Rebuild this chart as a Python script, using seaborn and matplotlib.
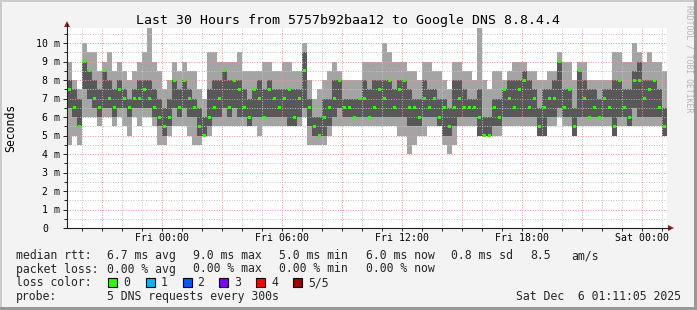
import numpy as np
import matplotlib
matplotlib.use("Agg")
import matplotlib.pyplot as plt
import matplotlib.transforms as mtransforms
from matplotlib.patches import Rectangle, Polygon
from matplotlib.lines import Line2D
import seaborn as sns

# ---------------- data (15-minute steps, hours relative to Fri 00:00) ----------------
t_start = -4.765
t_end = 25.235
step_h = 0.25

median = [7.5, 6.5, 5.5, 9.0, 8.5, 7.0, 6.5, 8.5, 7.0, 6.5,
          7.5, 7.0, 6.5, 7.0, 7.0, 7.5, 7.0, 6.5, 6.0, 5.5,
          6.0, 8.0, 6.5, 8.0, 7.0, 6.5, 5.5, 5.0, 6.0, 6.5,
          7.0, 8.5, 6.5, 8.0, 7.5, 6.5, 6.0, 7.5, 7.0, 6.0,
          7.5, 7.0, 6.5, 7.0, 7.5, 6.0, 7.0, 8.5, 6.5, 5.5,
          5.0, 6.0, 6.5, 7.0, 8.0, 6.5, 6.5, 6.0, 7.0, 7.0,
          6.0, 6.5, 7.5, 7.0, 8.0, 6.5, 7.5, 8.0, 6.5, 6.5,
          6.0, 7.0, 6.5, 7.0, 6.0, 6.5, 5.5, 6.5, 7.0, 6.5,
          6.5, 6.5, 6.0, 5.0, 5.0, 6.5, 6.0, 7.5, 7.0, 6.5,
          7.5, 8.0, 6.5, 7.0, 5.5, 6.5, 7.0, 7.0, 9.0, 6.5,
          7.5, 5.5, 8.5, 7.0, 6.0, 6.5, 6.0, 7.0, 6.5, 5.5,
          8.0, 6.5, 6.0, 8.0, 8.0, 7.0, 7.5, 8.0, 6.5, 5.5]
in_lo = [6.5, 6.0, 5.5, 7.5, 7.0, 6.5, 6.0, 6.5, 6.5, 6.0,
         6.5, 6.5, 6.0, 6.5, 6.5, 6.5, 6.5, 6.0, 5.5, 5.0,
         5.5, 6.5, 6.0, 6.5, 6.0, 6.0, 5.0, 5.0, 5.5, 6.0,
         6.0, 6.5, 6.0, 6.5, 6.0, 6.0, 5.5, 6.0, 6.0, 6.0,
         6.0, 6.0, 6.0, 6.0, 5.5, 5.5, 6.0, 6.5, 5.5, 5.0,
         5.0, 5.0, 5.5, 6.0, 6.5, 6.0, 6.0, 6.0, 6.0, 6.0,
         6.0, 6.0, 6.0, 6.0, 6.0, 6.0, 6.0, 6.0, 5.5, 5.5,
         5.5, 6.0, 6.0, 6.0, 5.5, 5.0, 5.0, 5.5, 6.0, 6.0,
         6.0, 6.0, 5.0, 5.0, 5.0, 5.5, 5.5, 6.0, 6.0, 6.0,
         6.0, 6.0, 6.0, 6.0, 5.0, 5.0, 6.0, 6.0, 6.5, 6.0,
         6.0, 5.0, 6.0, 6.0, 6.0, 6.0, 6.0, 6.0, 6.0, 5.0,
         6.0, 6.0, 5.5, 6.5, 6.0, 6.0, 6.0, 6.0, 6.0, 5.0]
in_hi = [8.0, 7.5, 7.0, 9.0, 8.5, 8.0, 7.5, 8.5, 8.0, 7.5,
         8.0, 7.5, 7.0, 7.5, 8.0, 8.0, 8.0, 7.5, 7.0, 6.5,
         7.0, 8.0, 7.5, 8.0, 7.5, 7.0, 6.5, 6.0, 7.5, 8.0,
         8.0, 8.5, 8.0, 8.0, 8.0, 7.5, 7.0, 7.5, 8.0, 7.5,
         8.0, 7.5, 7.5, 7.5, 7.5, 7.5, 7.5, 9.5, 7.0, 6.0,
         6.0, 7.0, 7.0, 8.0, 8.0, 7.0, 7.0, 7.0, 7.0, 8.0,
         7.5, 8.0, 8.0, 8.0, 8.0, 7.5, 8.0, 8.0, 7.5, 7.0,
         7.0, 8.0, 7.5, 7.5, 7.0, 7.0, 6.5, 8.0, 8.0, 7.5,
         7.0, 7.0, 7.5, 6.0, 6.0, 7.0, 7.0, 7.5, 8.0, 8.0,
         8.0, 8.5, 8.0, 7.5, 6.5, 7.5, 7.5, 8.0, 9.0, 7.5,
         7.5, 6.5, 8.5, 8.0, 7.5, 7.5, 7.0, 7.5, 7.5, 8.0,
         8.0, 7.5, 7.5, 8.5, 9.0, 8.0, 8.0, 8.0, 7.5, 6.5]
out_lo = [4.5, 5.0, 4.5, 6.0, 6.0, 6.0, 5.5, 6.0, 6.0, 5.5,
          6.0, 5.5, 5.0, 6.0, 5.5, 6.0, 6.0, 5.5, 4.5, 4.5,
          5.0, 5.5, 5.5, 5.5, 5.0, 4.5, 4.5, 5.0, 5.0, 5.5,
          5.5, 5.5, 5.5, 5.5, 5.5, 5.5, 5.5, 5.5, 5.0, 5.5,
          5.5, 5.5, 5.5, 5.5, 5.5, 5.5, 5.5, 6.0, 4.5, 4.5,
          4.5, 4.5, 5.0, 5.5, 5.5, 5.5, 5.5, 5.5, 5.5, 5.5,
          5.5, 5.5, 5.5, 5.5, 5.5, 5.5, 5.0, 5.0, 4.0, 4.5,
          5.0, 5.0, 5.5, 5.5, 5.5, 4.5, 4.0, 4.5, 5.5, 5.5,
          5.5, 5.5, 5.0, 5.0, 5.0, 5.0, 5.0, 5.5, 5.5, 5.5,
          5.5, 5.5, 5.5, 5.5, 5.0, 5.0, 5.5, 5.5, 6.0, 5.5,
          5.5, 5.0, 5.5, 5.5, 5.5, 5.5, 5.5, 5.5, 5.5, 5.0,
          5.5, 5.5, 5.5, 5.5, 5.5, 5.5, 5.5, 5.5, 5.5, 5.5]
out_hi = [9.0, 8.0, 7.5, 10.0, 9.5, 9.5, 8.5, 9.0, 9.5, 8.5,
          9.0, 8.5, 8.0, 8.5, 9.0, 9.5, 10.8, 9.0, 8.5, 7.5,
          8.0, 9.0, 8.5, 9.0, 8.5, 8.5, 7.5, 7.0, 9.5, 9.5,
          9.0, 9.0, 9.0, 9.0, 9.5, 8.5, 8.5, 8.5, 8.5, 9.0,
          9.0, 8.5, 8.5, 9.0, 9.0, 8.5, 8.5, 10.0, 8.0, 7.0,
          7.5, 8.0, 8.5, 9.0, 8.5, 8.0, 8.0, 8.0, 8.0, 9.0,
          9.0, 9.0, 9.0, 10.0, 9.5, 9.0, 9.0, 9.0, 8.5, 8.5,
          8.0, 9.0, 9.0, 8.5, 8.5, 8.0, 7.5, 9.0, 9.0, 8.5,
          8.5, 8.0, 10.8, 8.0, 7.5, 8.5, 8.5, 8.0, 8.5, 9.0,
          9.0, 9.0, 8.5, 8.5, 8.0, 8.0, 8.5, 8.5, 9.5, 9.0,
          9.0, 8.0, 9.0, 9.0, 8.0, 8.0, 8.0, 8.0, 8.0, 9.5,
          9.5, 9.0, 9.0, 10.0, 9.5, 9.0, 9.5, 9.0, 9.0, 8.5]

x_tick_pos = [0, 6, 12, 18, 24]
x_tick_labels = ["Fri 00:00", "Fri 06:00", "Fri 12:00", "Fri 18:00", "Sat 00:00"]
y_tick_pos = list(range(0, 11))
y_tick_labels = ["0"] + [f"{v} m" for v in range(1, 11)]

title = "Last 30 Hours from 5757b92baa12 to Google DNS 8.8.4.4"
ylabel = "Seconds"
side_text = "RRDTOOL / TOBI OETIKER"
row1 = ["median rtt:", "6.7 ms avg", "9.0 ms max", "5.0 ms min", "6.0 ms now", "0.8 ms sd", "8.5", "am/s"]
row2 = ["packet loss:", "0.00 % avg", "0.00 % max", "0.00 % min", "0.00 % now"]
loss_labels = ["0", "1", "2", "3", "4", "5/5"]
loss_colors = ["#26ff00", "#00b8ff", "#0059ff", "#7e00ff", "#ff0000", "#a10000"]
probe_text = "5 DNS requests every 300s"
date_text = "Sat Dec  6 01:11:05 2025"

# ---------------- figure ----------------
sns.set_style("white")
plt.rcParams["font.family"] = ["DejaVu Sans Mono"]

W, H = 697, 310
fig = plt.figure(figsize=(W / 100, H / 100), dpi=100, facecolor="#f3f3f3")


def fx(px):
    return px / W


def fy(py):
    return 1 - py / H


ax = fig.add_axes([fx(67), fy(228), fx(667) - fx(67), fy(28) - fy(228)])
ax.set_facecolor("white")
ymax = 200 / 18.5
ax.set_xlim(t_start, t_end)
ax.set_ylim(0, ymax)
for s in ax.spines.values():
    s.set_visible(False)

n = len(median)
edges = t_start + step_h * np.arange(n + 1)


def ext(a):
    a = np.asarray(a, float)
    return np.append(a, a[-1])


ax.fill_between(edges, ext(out_lo), ext(out_hi), step="post", color="#a4a4a4", lw=0, zorder=2)
ax.fill_between(edges, ext(in_lo), ext(in_hi), step="post", color="#585858", lw=0, zorder=3)
mid = edges[:-1] + step_h / 2
band = 3 * ymax / 200.0  # median marker, about three pixels tall
ax.bar(mid, band, bottom=np.asarray(median) - band / 2, width=step_h * 0.6,
       color="#26ff00", lw=0, zorder=6)

# grid
dots = (0, (1, 1.6))
hours = [h for h in range(-4, 26) if t_start < h < t_end]
ax.vlines([h for h in hours if h % 3 != 0], 0, ymax, colors="#c4c4c4", linestyles=dots, lw=0.7, zorder=5)
ax.vlines([h for h in hours if h % 3 == 0], 0, ymax, colors="#f29090", linestyles=dots, lw=0.7, zorder=5)
halfs = [k * 0.5 for k in range(1, 22) if k * 0.5 < ymax]
ax.hlines([v for v in halfs if v % 1 != 0], t_start, t_end, colors="#c4c4c4", linestyles=dots, lw=0.7, zorder=5)
ax.hlines([v for v in halfs if v % 1 == 0], t_start, t_end, colors="#f29090", linestyles=dots, lw=0.7, zorder=5)

# ticks
ax.set_xticks(x_tick_pos)
ax.set_xticks(hours, minor=True)
ax.set_yticks(y_tick_pos)
ax.set_yticks([v for v in halfs if v % 1 != 0], minor=True)
ax.tick_params(which="both", direction="out", length=2, width=0.7, color="#222222",
               labelbottom=False, labelleft=False, bottom=True, left=True)
ax.tick_params(which="major", axis="y", length=3)

# axis lines + arrows
fig.add_artist(Line2D([fx(67), fx(67)], [fy(228), fy(24)], color="#202020", lw=0.8))
fig.add_artist(Line2D([fx(64), fx(670)], [fy(228), fy(228)], color="#202020", lw=0.8))
fig.add_artist(Polygon([(fx(64), fy(27)), (fx(70), fy(27)), (fx(67), fy(21))], closed=True,
                       color="#9b1c1c", lw=0))
fig.add_artist(Polygon([(fx(668), fy(225)), (fx(668), fy(231)), (fx(674), fy(228))], closed=True,
                       color="#9b1c1c", lw=0))

# tick labels
tx = mtransforms.blended_transform_factory(ax.transData, fig.transFigure)
for p, lab in zip(x_tick_pos, x_tick_labels):
    ax.text(p, fy(241), lab, transform=tx, ha="center", va="baseline", fontsize=7.1, color="#000000")
ty = mtransforms.offset_copy(mtransforms.blended_transform_factory(fig.transFigure, ax.transData),
                             fig=fig, y=-3.6, units="dots")
for p, lab in zip(y_tick_pos, y_tick_labels):
    if lab == "0":
        ax.text(fx(42.7), p, lab, transform=ty, ha="left", va="baseline", fontsize=7.1, color="#000000")
    else:
        ax.text(fx(59.5), p, lab, transform=ty, ha="right", va="baseline", fontsize=7.1, color="#000000")

# titles
fig.text(fx(348.5), fy(23.8), title, ha="center", va="baseline", fontsize=9.5, color="#000000")
fig.text(fx(11), fy(127.5), ylabel, rotation=90, ha="center", va="center", fontsize=8.3, color="#000000")
fig.text(fx(688.5), fy(5), side_text, rotation=270, ha="center", va="top", fontsize=5.9, color="#b4b4b4")

# legend rows
fs = 8.3
row_x = [16, 107.3, 193.3, 279.3, 366, 450.7, 530, 571.7]
for xx, s in zip(row_x, row1):
    fig.text(fx(xx), fy(259.2), s, ha="left", va="baseline", fontsize=fs)
for xx, s in zip(row_x, row2):
    fig.text(fx(xx), fy(272.5), s, ha="left", va="baseline", fontsize=fs)
fig.text(fx(16), fy(286), "loss color:", ha="left", va="baseline", fontsize=fs)
box_x = [108.3, 145.7, 182.7, 219.3, 256.0, 292.7]
lab_x = [123.3, 161.0, 197.3, 234.3, 271.0, 308.3]
for bx, lx, lab, col in zip(box_x, lab_x, loss_labels, loss_colors):
    fig.add_artist(Rectangle((fx(bx), fy(287)), 9 / W, 9.5 / H, facecolor=col, edgecolor="#000000", lw=0.8))
    fig.text(fx(lx), fy(286), lab, ha="left", va="baseline", fontsize=fs)
fig.text(fx(16), fy(300.2), "probe:", ha="left", va="baseline", fontsize=fs)
fig.text(fx(107.3), fy(300.2), probe_text, ha="left", va="baseline", fontsize=fs)
fig.text(fx(680.7), fy(300.2), date_text, ha="right", va="baseline", fontsize=fs)

# frame shading
fig.add_artist(Rectangle((0, fy(2)), 1, 2 / H, facecolor="#cbcbcb", lw=0))
fig.add_artist(Rectangle((0, 0), 2 / W, 1, facecolor="#cbcbcb", lw=0))
fig.add_artist(Rectangle((0, 0), 1, 3 / H, facecolor="#999999", lw=0))
fig.add_artist(Rectangle((fx(W - 3), 0), 3 / W, 1, facecolor="#999999", lw=0))

fig.savefig("out.png", dpi=100, facecolor=fig.get_facecolor())
